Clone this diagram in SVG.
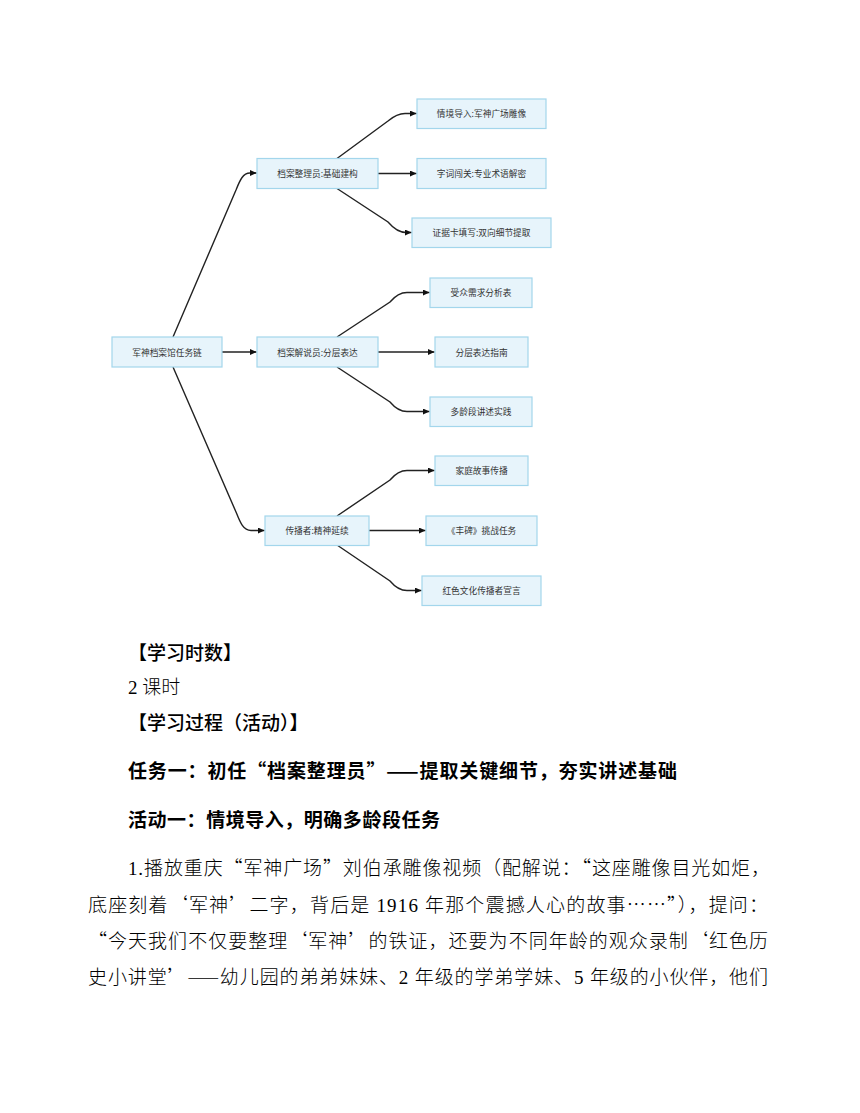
<svg xmlns="http://www.w3.org/2000/svg" width="860" height="1113" viewBox="0 0 860 1113">
<style>
  .node rect { fill: #e7f4fb; stroke: #a3d6ec; stroke-width: 1.2; }
  .node text { font-family: "Noto Sans CJK SC", "Liberation Sans", sans-serif; font-size: 8.7px; fill: #333; text-anchor: middle; dominant-baseline: central; }
  .edge { fill: none; stroke: #222; stroke-width: 1.4; marker-end: url(#arrow); }
  .head { font-family: "Noto Sans CJK SC", sans-serif; font-size: 19px; font-weight: 700; fill: #000; }
  .body { font-family: "Noto Sans CJK SC", sans-serif; font-size: 19px; font-weight: 300; fill: #000; }
  .lat { font-family: "Liberation Serif", serif; }
</style>
<defs>
  <marker id="arrow" markerUnits="userSpaceOnUse" markerWidth="7" markerHeight="6" refX="6.5" refY="3" orient="auto">
    <path d="M0,0 L6.5,3 L0,6 z" fill="#111"/>
  </marker>
</defs>
<rect width="860" height="1113" fill="#fff"/>

<g id="connectors">
  <path class="edge" d="M173,337 L236,190 C240,180 243,173 250,173 L256.5,173"/>
  <path class="edge" d="M222,352 L256.5,352"/>
  <path class="edge" d="M173,367 L236,512 C240,522 243,530.5 251,530.5 L264.5,530.5"/>
  <path class="edge" d="M337,158.5 L388,121 Q397,113.5 405,113.5 L416.5,113.5"/>
  <path class="edge" d="M378,173.5 L416.5,173.5"/>
  <path class="edge" d="M337,188.5 L388,222 Q397,232.5 406,232.5 L411.5,232.5"/>
  <path class="edge" d="M337,337 L390,302 Q398,292.5 407,292.5 L429.5,292.5"/>
  <path class="edge" d="M378,352 L434.5,352"/>
  <path class="edge" d="M337,367 L390,402 Q398,411.5 407,411.5 L429.5,411.5"/>
  <path class="edge" d="M337,516 L390,480 Q398,470.5 407,470.5 L434.5,470.5"/>
  <path class="edge" d="M369,530.5 L425.5,530.5"/>
  <path class="edge" d="M337,545 L390,581 Q398,590.5 407,590.5 L421.5,590.5"/>
</g>

<g id="root" class="node"><rect x="112" y="337" width="110" height="30"/><text x="167" y="352">军神档案馆任务链</text></g>
<g id="nodeA" class="node"><rect x="257" y="158.5" width="121" height="30"/><text x="317.5" y="173.5">档案整理员:基础建构</text></g>
<g id="nodeA1" class="node"><rect x="417" y="99" width="129" height="29.5"/><text x="481.5" y="113.8">情境导入:军神广场雕像</text></g>
<g id="nodeA2" class="node"><rect x="417" y="158.5" width="129" height="30"/><text x="481.5" y="173.5">字词闯关:专业术语解密</text></g>
<g id="nodeA3" class="node"><rect x="412" y="218" width="139" height="29.5"/><text x="481.5" y="232.8">证据卡填写:双向细节提取</text></g>
<g id="nodeB" class="node"><rect x="257" y="337" width="121" height="30"/><text x="317.5" y="352">档案解说员:分层表达</text></g>
<g id="nodeB1" class="node"><rect x="430" y="278" width="102" height="29.5"/><text x="481" y="292.8">受众需求分析表</text></g>
<g id="nodeB2" class="node"><rect x="435" y="337" width="93" height="30"/><text x="481.5" y="352">分层表达指南</text></g>
<g id="nodeB3" class="node"><rect x="430" y="397" width="102" height="29.5"/><text x="481" y="411.8">多龄段讲述实践</text></g>
<g id="nodeC" class="node"><rect x="265" y="516" width="104" height="29.5"/><text x="317" y="530.8">传播者:精神延续</text></g>
<g id="nodeC1" class="node"><rect x="435" y="456" width="93" height="29.5"/><text x="481.5" y="470.8">家庭故事传播</text></g>
<g id="nodeC2" class="node"><rect x="426" y="516" width="111" height="29.5"/><text x="481.5" y="530.8">《丰碑》挑战任务</text></g>
<g id="nodeC3" class="node"><rect x="422" y="576" width="119" height="29.5"/><text x="481.5" y="590.8">红色文化传播者宣言</text></g>

<text class="head" style="font-weight:500" x="128" y="660">【学习时数】</text>
<text class="body" x="128" y="694"><tspan class="lat">2 </tspan>课时</text>
<text class="head" style="font-weight:500" x="128" y="730">【学习过程（活动）】</text>
<text class="head" x="128" y="778" textLength="549" lengthAdjust="spacing">任务一：初任“档案整理员”——提取关键细节，夯实讲述基础</text>
<text class="head" x="128" y="827" textLength="312" lengthAdjust="spacing">活动一：情境导入，明确多龄段任务</text>
<text class="body" x="128" y="875" textLength="642" lengthAdjust="spacing"><tspan class="lat">1.</tspan>播放重庆“军神广场”刘伯承雕像视频（配解说：“这座雕像目光如炬，</text>
<text class="body" x="88" y="912" textLength="680" lengthAdjust="spacing">底座刻着‘军神’二字，背后是<tspan class="lat"> 1916 </tspan>年那个震撼人心的故事……”），提问：</text>
<text class="body" x="88" y="948" textLength="680" lengthAdjust="spacing">“今天我们不仅要整理‘军神’的铁证，还要为不同年龄的观众录制‘红色历</text>
<text class="body" x="88" y="984" textLength="680" lengthAdjust="spacing">史小讲堂’——幼儿园的弟弟妹妹、<tspan class="lat">2 </tspan>年级的学弟学妹、<tspan class="lat">5 </tspan>年级的小伙伴，他们</text>
</svg>
